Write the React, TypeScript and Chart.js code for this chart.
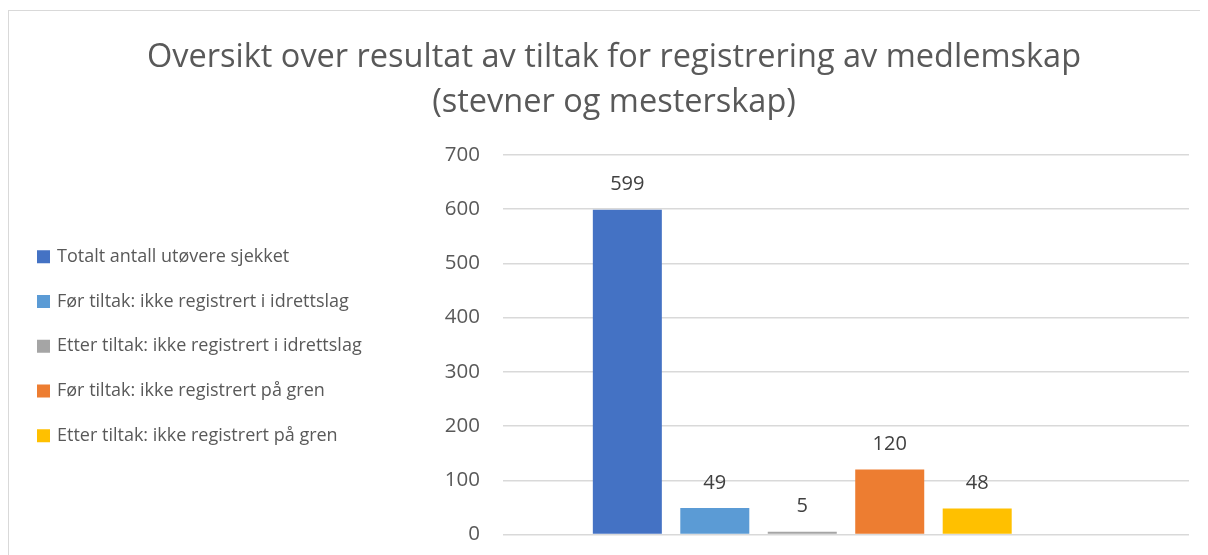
import React, { useEffect, useRef } from "react";
import { Chart, registerables } from "chart.js";

Chart.register(...registerables);

const titleLines = [
  "Oversikt over resultat av tiltak for registrering av medlemskap",
  "(stevner og mesterskap)",
];
const categories = [""];
const seriesNames = [
  "Totalt antall utøvere sjekket",
  "Før tiltak: ikke registrert i idrettslag",
  "Etter tiltak: ikke registrert i idrettslag",
  "Før tiltak: ikke registrert på gren",
  "Etter tiltak: ikke registrert på gren",
  "",
];
const seriesValues: (number | null)[] = [599, 49, 5, 120, 48, null];
const seriesColors = ["#4472C4", "#5B9BD5", "#A5A5A5", "#ED7D31", "#FFC000", "#70AD47"];
const yTicks = { min: 0, max: 700, step: 100 };

const FONT = "'Open Sans', 'Liberation Sans', sans-serif";
const TEXT = "#595959";

const valueLabels = {
  id: "valueLabels",
  afterDatasetsDraw(chart: any) {
    const ctx = chart.ctx;
    ctx.save();
    ctx.font = `20px ${FONT}`;
    ctx.fillStyle = "#404040";
    ctx.textAlign = "center";
    ctx.textBaseline = "middle";
    chart.data.datasets.forEach((ds: any, i: number) => {
      const meta = chart.getDatasetMeta(i);
      meta.data.forEach((el: any, j: number) => {
        const v = ds.data[j];
        if (v === null || v === undefined) return;
        ctx.fillText(String(v), el.x, el.y - 25);
      });
    });
    ctx.restore();
  },
};

// Legend drawn on the left, vertically centred on the plot area.
const sideLegend = {
  id: "sideLegend",
  afterDraw(chart: any) {
    const ctx = chart.ctx;
    const area = chart.chartArea;
    const items = chart.data.datasets
      .map((ds: any, i: number) => ({ text: ds.label, color: ds.backgroundColor, i }))
      .filter((it: any) => it.text);
    const gap = 44.75;
    const cy = (area.top + area.bottom) / 2 + 1.5;
    const box = 13;
    const x0 = 28;
    ctx.save();
    ctx.font = `18px ${FONT}`;
    ctx.textAlign = "left";
    ctx.textBaseline = "middle";
    items.forEach((it: any, k: number) => {
      const y = cy + (k - (items.length - 1) / 2) * gap;
      ctx.fillStyle = it.color;
      ctx.fillRect(x0, y - box / 2, box, box);
      ctx.fillStyle = TEXT;
      ctx.fillText(it.text, x0 + box + 7, y);
    });
    ctx.restore();
  },
};

export default function App() {
  const ref = useRef<HTMLCanvasElement | null>(null);

  useEffect(() => {
    if (!ref.current) return;
    const chart = new Chart(ref.current, {
      type: "bar",
      data: {
        labels: categories,
        datasets: seriesNames.map((name, i) => ({
          label: name,
          data: [seriesValues[i]],
          backgroundColor: seriesColors[i],
          borderWidth: 0,
          categoryPercentage: 0.765,
          barPercentage: 0.789,
        })),
      },
      options: {
        responsive: false,
        animation: false,
        layout: { padding: { left: 0, right: 0, top: 0, bottom: 36.5 } },
        plugins: {
          title: {
            display: true,
            text: titleLines,
            color: TEXT,
            font: { family: FONT, size: 32.5, weight: "normal", lineHeight: "45px" },
            padding: { top: 24.5, bottom: 29.5 },
          },
          legend: { display: false },
          tooltip: { enabled: false },
        },
        scales: {
          x: { display: false },
          y: {
            min: yTicks.min,
            max: yTicks.max,
            ticks: {
              stepSize: yTicks.step,
              color: TEXT,
              padding: 23,
              font: { family: FONT, size: 20.5 },
            },
            grid: { color: "#d9d9d9", lineWidth: 1.5, drawTicks: false },
            border: { display: false },
            afterFit: (scale: any) => {
              scale.width = 494;
            },
          },
          yRight: {
            position: "right",
            min: yTicks.min,
            max: yTicks.max,
            ticks: { display: false },
            grid: { display: false, drawTicks: false },
            border: { display: false },
            afterFit: (scale: any) => {
              scale.width = 30;
            },
          },
        },
      },
      plugins: [valueLabels, sideLegend],
    });
    return () => chart.destroy();
  }, []);

  return (
    <div style={{ width: 1200, height: 547, overflow: "hidden" }}>
      <div
        style={{
          marginTop: 2,
          width: 1212,
          height: 600,
          border: "1px solid #d9d9d9",
          boxSizing: "border-box",
          background: "#fff",
        }}
      >
        <canvas ref={ref} width={1210} height={560} style={{ display: "block" }} />
      </div>
    </div>
  );
}
